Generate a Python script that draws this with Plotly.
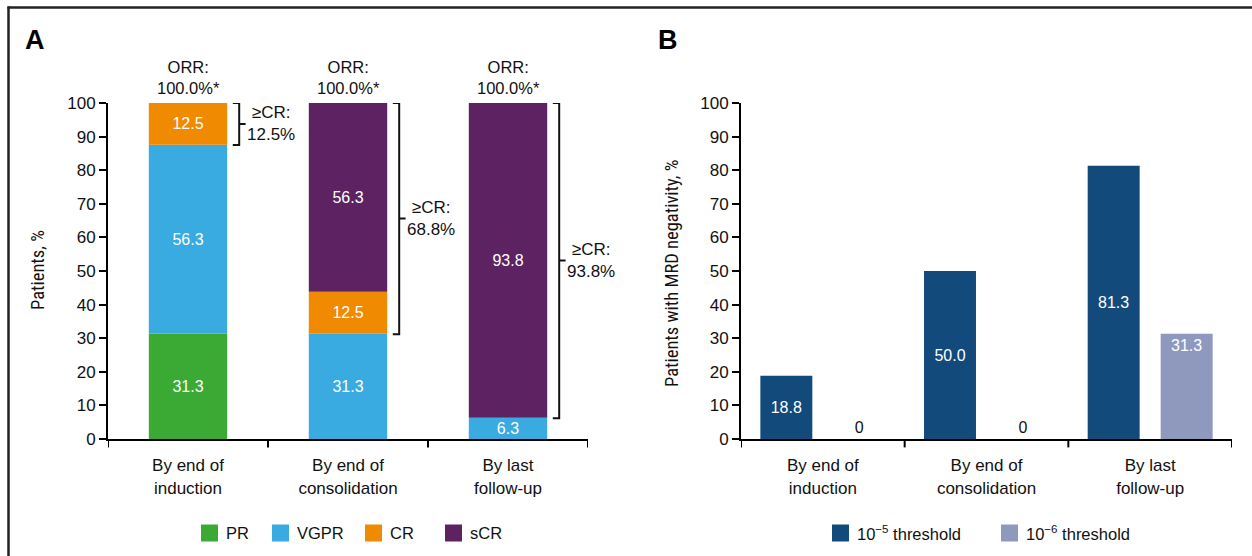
import plotly.graph_objects as go

# ---------------- data ----------------
categories = ["By end of<br>induction", "By end of<br>consolidation", "By last<br>follow-up"]

# Panel A: response categories (stacked, bottom to top)
response_names = ["PR", "VGPR", "CR", "sCR"]
pr = [31.3, 0.0, 0.0]
vgpr = [56.3, 31.3, 6.3]
cr = [12.5, 12.5, 0.0]
scr = [0.0, 56.3, 93.8]
orr = [100.0, 100.0, 100.0]
cr_or_better = [12.5, 68.8, 93.8]

# Panel B: MRD negativity
mrd_names = ["10<sup>\u22125</sup> threshold", "10<sup>\u22126</sup> threshold"]
mrd_1e5 = [18.8, 50.0, 81.3]
mrd_1e6 = [0.0, 0.0, 31.3]

# ---------------- style ----------------
FONT = "Liberation Sans, Arial, sans-serif"
NARROW = "Roboto Condensed, Liberation Sans Narrow, Arial Narrow, sans-serif"
TXT = "#111111"
colors_a = ["#3aaa35", "#3aabe0", "#f08a00", "#5c2262"]
colors_b = ["#124a7c", "#8f99bd"]
text_anchor_b = ["middle", "end"]
W, H = 1252, 556


def px_x(p):
    return p / W


def px_y(p):
    return 1 - p / H


fig = go.Figure()
x_idx = list(range(len(categories)))
bar_w = 0.49

# ---- panel A: stacked bars (explicit base so panel B can use grouped mode) ----
base = [0.0] * len(categories)
for name, vals, col in zip(response_names, [pr, vgpr, cr, scr], colors_a):
    keep = [i for i, v in enumerate(vals) if v > 0]
    fig.add_trace(go.Bar(
        x=[x_idx[i] for i in keep], y=[vals[i] for i in keep], base=[base[i] for i in keep],
        name=name, marker=dict(color=col, line=dict(width=0)),
        width=bar_w, offset=-bar_w / 2,
        text=[f"{vals[i]:.1f}" for i in keep],
        textposition="inside", insidetextanchor="middle", constraintext="none",
        insidetextfont=dict(color="white", size=16, family=FONT),
        xaxis="x", yaxis="y", showlegend=False, hoverinfo="skip",
    ))
    base = [b + v for b, v in zip(base, vals)]

# ---- panel B: grouped bars ----
for name, vals, col, anc in zip(mrd_names, [mrd_1e5, mrd_1e6], colors_b, text_anchor_b):
    fig.add_trace(go.Bar(
        x=x_idx, y=vals, name=name, marker=dict(color=col, line=dict(width=0)),
        text=[f"{v:.1f}" if v > 0 else "0" for v in vals],
        textposition=["inside" if v > 0 else "outside" for v in vals],
        insidetextanchor=anc, constraintext="none",
        insidetextfont=dict(color="white", size=16, family=FONT),
        outsidetextfont=dict(color=TXT, size=16, family=FONT),
        cliponaxis=False,
        xaxis="x2", yaxis="y2", showlegend=False, hoverinfo="skip",
    ))

# ---------------- annotations / brackets ----------------
annotations = []
shapes = []
for i in x_idx:
    top = orr[i]
    annotations.append(dict(x=i, y=top, xref="x", yref="y", text=f"ORR:<br>{orr[i]:.1f}%*",
                            showarrow=False, xanchor="center", yanchor="bottom", yshift=4,
                            font=dict(size=16.5, family=FONT, color=TXT)))
    bottom = top - cr_or_better[i]
    xv, xl, xr = i + 0.32, i + 0.28, i + 0.36
    mid = (top + bottom) / 2
    path = (f"M {xl} {top} L {xv} {top} L {xv} {bottom} L {xl} {bottom} "
            f"M {xv} {mid} L {xr} {mid}")
    shapes.append(dict(type="path", path=path, xref="x", yref="y",
                       line=dict(color=TXT, width=2)))
    annotations.append(dict(x=i + 0.355, y=mid, xref="x", yref="y",
                            text=f"\u2265CR:<br>{cr_or_better[i]:.1f}%",
                            showarrow=False, xanchor="left", yanchor="middle", align="center",
                            font=dict(size=17, family=FONT, color=TXT)))

# panel letters
annotations.append(dict(x=px_x(35), y=px_y(40), xref="paper", yref="paper", text="<b>A</b>",
                        showarrow=False, xanchor="center", yanchor="middle",
                        font=dict(size=27, family=FONT, color="black")))
annotations.append(dict(x=px_x(668), y=px_y(40), xref="paper", yref="paper", text="<b>B</b>",
                        showarrow=False, xanchor="center", yanchor="middle",
                        font=dict(size=27, family=FONT, color="black")))

# y-axis titles
annotations.append(dict(x=px_x(38), y=px_y(270), xref="paper", yref="paper", text="Patients, %",
                        textangle=-90, showarrow=False, xanchor="center", yanchor="middle",
                        font=dict(size=18.5, family=NARROW, color=TXT)))
annotations.append(dict(x=px_x(672), y=px_y(274), xref="paper", yref="paper",
                        text="Patients with MRD negativity, %",
                        textangle=-90, showarrow=False, xanchor="center", yanchor="middle",
                        font=dict(size=18.5, family=NARROW, color=TXT)))

# custom legends (17px squares)
LEG_Y = 533
legend_a_x = [201, 272, 365, 445]
legend_b_x = [832, 1001]
for names, cols, xs in [(response_names, colors_a, legend_a_x), (mrd_names, colors_b, legend_b_x)]:
    for name, col, x0 in zip(names, cols, xs):
        shapes.append(dict(type="rect", xref="paper", yref="paper",
                           x0=px_x(x0), x1=px_x(x0 + 17), y0=px_y(LEG_Y + 8.5), y1=px_y(LEG_Y - 8.5),
                           fillcolor=col, line=dict(width=0)))
        annotations.append(dict(x=px_x(x0 + 23), y=px_y(LEG_Y), xref="paper", yref="paper",
                                text=name, showarrow=False, xanchor="left", yanchor="middle",
                                font=dict(size=16.5, family=FONT, color=TXT)))

# outer frame (top and left borders)
shapes.append(dict(type="line", xref="paper", yref="paper", x0=px_x(7.5), x1=1.0,
                   y0=px_y(7.5), y1=px_y(7.5), line=dict(color="#222222", width=2.5)))
shapes.append(dict(type="line", xref="paper", yref="paper", x0=px_x(8.5), x1=px_x(8.5),
                   y0=px_y(6.5), y1=0.0, line=dict(color="#222222", width=2.5)))

# x-axis boundary ticks at category boundaries
for xa, ya in [("x", "y"), ("x2", "y2")]:
    for b in [-0.5, 0.5, 1.5, 2.5]:
        shapes.append(dict(type="line", xref=xa, yref=f"{ya} domain", x0=b, x1=b, y0=0, y1=-0.025,
                           line=dict(color="black", width=2)))

y_dom = [px_y(439), px_y(103)]
xaxis_common = dict(
    type="linear", range=[-0.5, 2.5], tickvals=x_idx, ticktext=categories,
    showline=True, linecolor="black", linewidth=2, ticks="", showgrid=False, zeroline=False,
    tickfont=dict(size=17, family=FONT, color=TXT), automargin=False, ticklabelstandoff=10,
)
yaxis_common = dict(
    range=[0, 100], tickvals=list(range(0, 101, 10)), showline=True, linecolor="black",
    linewidth=2, ticks="outside", ticklen=7, tickwidth=2, tickcolor="black",
    showgrid=False, zeroline=False, tickfont=dict(size=17, family=FONT, color=TXT),
    domain=y_dom, automargin=False,
)

fig.update_layout(
    width=W, height=H, margin=dict(l=0, r=0, t=0, b=0, pad=0, autoexpand=False),
    plot_bgcolor="white", paper_bgcolor="white",
    barmode="group", bargap=0.108, bargroupgap=0.288,
    showlegend=False,
    font=dict(family=FONT, color=TXT),
    xaxis=dict(domain=[px_x(108), px_x(588)], anchor="y", **xaxis_common),
    yaxis=dict(anchor="x", **yaxis_common),
    xaxis2=dict(domain=[px_x(741), px_x(1232)], anchor="y2", **xaxis_common),
    yaxis2=dict(anchor="x2", **yaxis_common),
    annotations=annotations,
    shapes=shapes,
)

fig.write_html("out.html", config={"displayModeBar": False},
               post_script="document.body.style.margin='0px';document.body.style.overflow='hidden';")
